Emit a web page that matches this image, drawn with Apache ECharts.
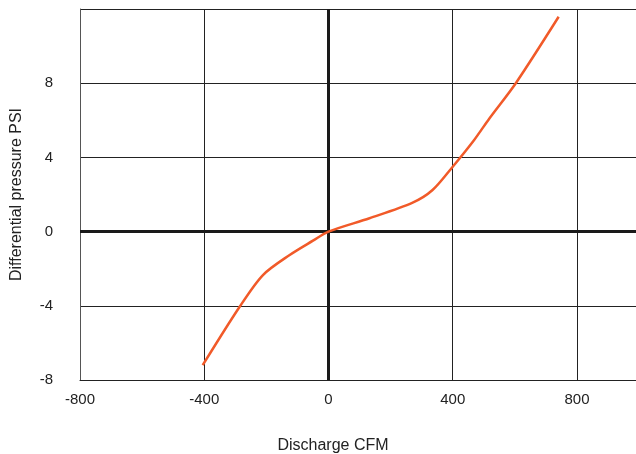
<!DOCTYPE html>
<html>
<head>
<meta charset="utf-8">
<script src="https://cdn.jsdelivr.net/npm/echarts@6/dist/echarts.min.js"></script>
<style>
  html, body { margin: 0; padding: 0; background: #fff; }
  #chart { width: 636px; height: 454px; }
</style>
</head>
<body>
<div id="chart"></div>
<script>
// discharge (CFM) vs differential pressure (PSI)
var cfmValues = [-405, -286, -211, -125, -50, 0, 132, 271, 335, 400, 469, 518, 603, 741];
var psiValues = [-7.2, -4.05, -2.34, -1.26, -0.49, 0, 0.72, 1.56, 2.24, 3.5, 4.94, 6.1, 8.0, 11.58];

var xTicks = [-800, -400, 0, 400, 800];
var yTicks = [-8, -4, 0, 4, 8];

var lineColor = '#f15a29';
var inkColor = '#222';
var fontName = 'Liberation Sans, Arial, sans-serif';

function curve_data(){
    return cfmValues.map(function (x, i) {
        return [x, psiValues[i]];
    });
}

function axis_label(){
    return {
        color: inkColor,
        fontFamily: fontName,
        fontSize: 15
    };
}

var chart = echarts.init(document.getElementById('chart'));

var options = {
    animation: false,
    grid: {
        left: 80,
        right: 0,
        top: 9,
        bottom: 74,
        containLabel: false,
        outerBoundsMode: 'none'
    },
    xAxis: {
        type: 'value',
        min: -800,
        max: 990,
        interval: 400,
        name: 'Discharge CFM',
        nameLocation: 'middle',
        nameGap: 58,
        nameTextStyle: {
            color: inkColor,
            fontFamily: fontName,
            fontSize: 16,
            padding: [0, 50, 0, 0]
        },
        axisLine: { onZero: false, lineStyle: { color: inkColor, width: 1 } },
        axisTick: { show: false },
        axisLabel: Object.assign(axis_label(), {
            margin: 12,
            showMaxLabel: false,
            formatter: function (v) { return xTicks.indexOf(v) >= 0 ? String(v) : ''; }
        }),
        splitLine: { show: true, lineStyle: { color: inkColor, width: 1 } }
    },
    yAxis: {
        type: 'value',
        min: -8,
        max: 12,
        interval: 4,
        name: 'Differential pressure PSI',
        nameLocation: 'middle',
        nameGap: 55,
        nameTextStyle: {
            color: inkColor,
            fontFamily: fontName,
            fontSize: 16
        },
        axisLine: { show: true, onZero: false, lineStyle: { color: '#555', width: 1 } },
        axisTick: { show: false },
        axisLabel: Object.assign(axis_label(), {
            margin: 27,
            formatter: function (v) { return yTicks.indexOf(v) >= 0 ? String(v) : ''; }
        }),
        splitLine: { show: true, lineStyle: { color: inkColor, width: 1 } }
    },
    series: [{
        type: 'line',
        data: curve_data(),
        symbol: 'none',
        smooth: 0.3,
        lineStyle: { color: lineColor, width: 2.5 },
        z: 5,
        markLine: {
            silent: true,
            symbol: 'none',
            label: { show: false },
            lineStyle: { color: '#1a1a1a', width: 3, type: 'solid' },
            data: [{ xAxis: 0 }, { yAxis: 0 }]
        }
    }]
};

chart.setOption(options);
</script>
</body>
</html>
